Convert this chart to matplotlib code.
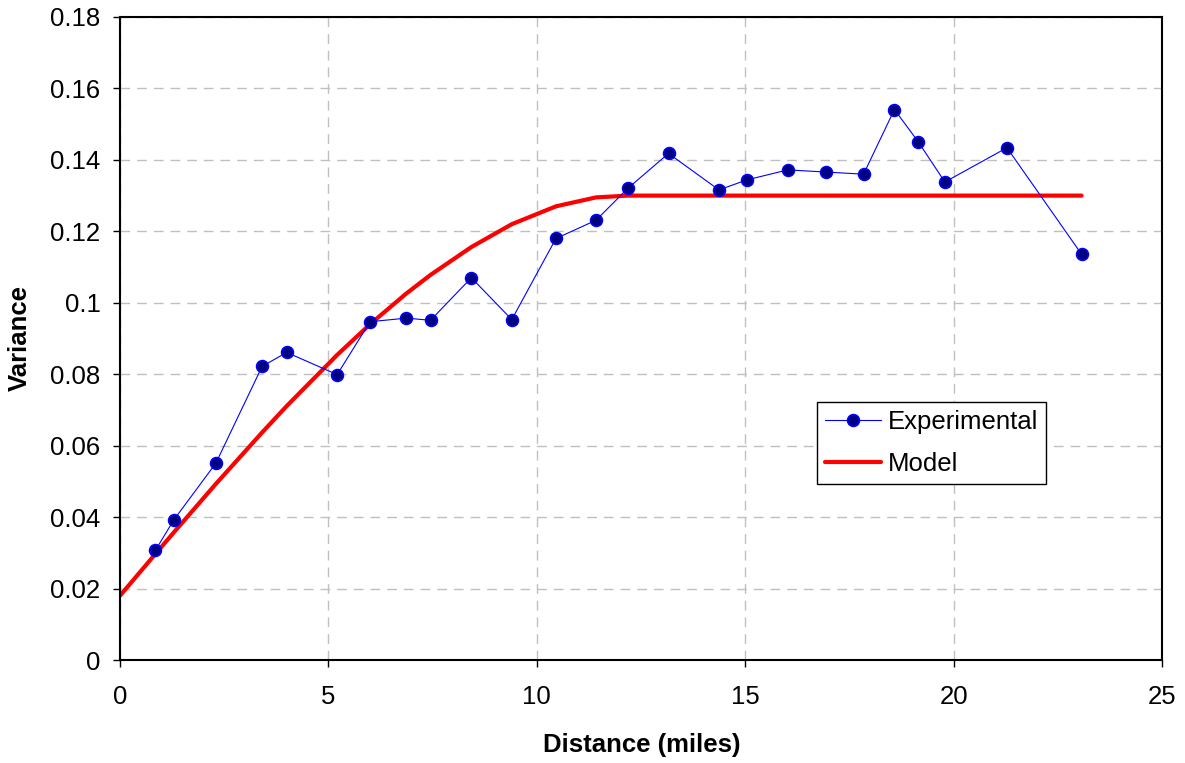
import matplotlib
matplotlib.use("Agg")
import matplotlib.pyplot as plt

# Experimental variogram points
exp_dist = [0.85, 1.29, 2.30, 3.41, 4.00, 5.21, 6.00, 6.87, 7.45, 8.43, 9.40,
            10.46, 11.42, 12.19, 13.16, 14.37, 15.04, 16.02, 16.93, 17.84,
            18.58, 19.15, 19.79, 21.28, 23.07]
exp_var = [0.0307, 0.0392, 0.0551, 0.0822, 0.0861, 0.0799, 0.0947, 0.0957,
           0.0951, 0.1070, 0.0953, 0.1180, 0.1231, 0.1321, 0.1418, 0.1316,
           0.1344, 0.1372, 0.1366, 0.1360, 0.1541, 0.1451, 0.1338, 0.1434,
           0.1136]

# Model curve
model_dist = [0.0, 0.85, 1.29, 2.30, 3.41, 4.00, 5.21, 6.00, 6.87, 7.45, 8.43,
              9.40, 10.46, 11.42, 12.19, 13.16, 14.37, 15.04, 16.02, 16.93,
              17.84, 18.58, 19.15, 19.79, 21.28, 23.07]
model_var = [0.0180, 0.0297, 0.0357, 0.0493, 0.0637, 0.0711, 0.0854, 0.0940,
             0.1026, 0.1078, 0.1156, 0.1220, 0.1270, 0.1295, 0.1300, 0.1300,
             0.1300, 0.1300, 0.1300, 0.1300, 0.1300, 0.1300, 0.1300, 0.1300,
             0.1300, 0.1300]

x_ticks = [0, 5, 10, 15, 20, 25]
y_ticks = [0, 0.02, 0.04, 0.06, 0.08, 0.1, 0.12, 0.14, 0.16, 0.18]
y_tick_labels = ["0", "0.02", "0.04", "0.06", "0.08", "0.1", "0.12", "0.14", "0.16", "0.18"]

plt.rcParams['font.family'] = ['Liberation Sans', 'DejaVu Sans']
FS = 18.5

W, H = 1185, 763
fig = plt.figure(figsize=(W / 100, H / 100), dpi=100)
ax = fig.add_axes([120 / W, 1 - 660 / H, (1162 - 120) / W, (660 - 17) / H])

ax.grid(True, color='#c0c0c0', linestyle=(0, (7, 5)), linewidth=1.0)
ax.set_axisbelow(True)

ax.plot(exp_dist, exp_var, color='#0000ff', linewidth=0.8, marker='o',
        markersize=8.5, markerfacecolor='#000080', markeredgecolor='#0000ff',
        markeredgewidth=1.2, label='Experimental', zorder=3)
ax.plot(model_dist, model_var, color='#ff0000', linewidth=3.0,
        solid_capstyle='round', label='Model', zorder=2)

ax.set_xlim(0, 25)
ax.set_ylim(0, 0.18)
ax.set_xticks(x_ticks)
ax.set_xticklabels([str(t) for t in x_ticks])
ax.set_yticks(y_ticks)
ax.set_yticklabels(y_tick_labels)
ax.tick_params(axis='both', direction='out', length=5, width=1, labelsize=FS,
               colors='black')
ax.tick_params(axis='y', pad=9)
ax.tick_params(axis='x', pad=13)

for s in ax.spines.values():
    s.set_linewidth(1.5)
    s.set_color('black')

fig.text(642 / W, 1 - 745 / H, 'Distance (miles)', fontsize=FS,
         fontweight='bold', ha='center', va='center')
fig.text(20 / W, 1 - 338 / H, 'Variance', fontsize=FS, fontweight='bold',
         ha='center', va='center', rotation=90)

leg = ax.legend(loc='upper left', bbox_to_anchor=(817 / W, 1 - 402 / H),
                bbox_transform=fig.transFigure, fontsize=FS, frameon=True,
                fancybox=False, shadow=False, framealpha=1, edgecolor='black',
                handlelength=2.2, handletextpad=0.25, borderpad=0.3,
                labelspacing=0.72, borderaxespad=0)
leg.get_frame().set_linewidth(1.0)

fig.savefig('out.png', dpi=100)
